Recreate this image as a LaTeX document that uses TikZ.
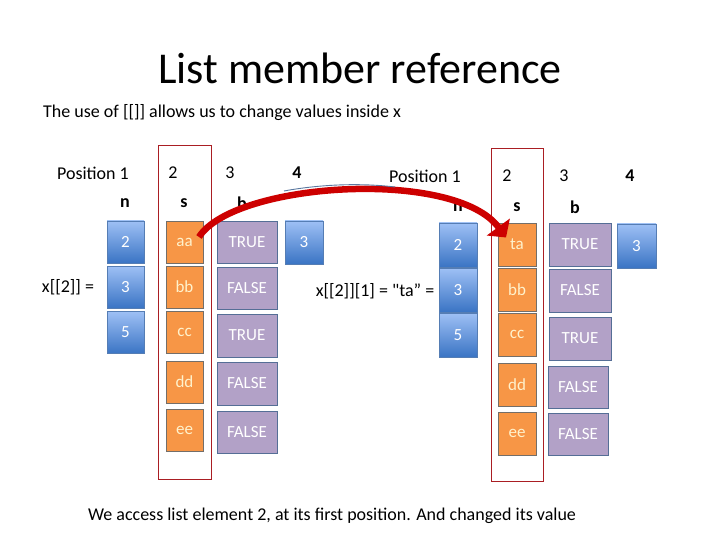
\documentclass[tikz,border=0pt]{standalone}
\usepackage{fontspec}
\setmainfont{Carlito}
\newfontfamily\rawfont{Carlito}[Ligatures=TeXOff]
\usetikzlibrary{arrows.meta,calc}
\definecolor{bluetop}{RGB}{158,192,245}
\definecolor{bluebot}{RGB}{58,116,196}
\definecolor{blueedge}{RGB}{85,125,180}
\definecolor{orfill}{RGB}{247,150,70}
\definecolor{oredge}{RGB}{115,110,105}
\definecolor{orttext}{RGB}{255,242,204}
\definecolor{pufill}{RGB}{178,161,199}
\definecolor{puedge}{RGB}{85,110,150}
\definecolor{frame}{RGB}{170,30,35}
\definecolor{arrred}{RGB}{205,0,0}
\definecolor{thinblue}{RGB}{90,120,160}
\tikzset{
  cell/.style={minimum width=#1, inner sep=0pt, font=\fontsize{17}{17}\selectfont, line width=0.8pt},
  bluebox/.style={cell=37pt, minimum height=42pt, draw=blueedge, top color=bluetop, bottom color=bluebot, text=white},
  orbox/.style={cell=37pt, minimum height=42pt, draw=oredge, fill=orfill, text=orttext},
  pubox/.style={cell=60pt, minimum height=42pt, draw=puedge, fill=pufill, text=white},
  lbl/.style={font=\fontsize{18}{18}\selectfont, inner sep=0pt},
  blbl/.style={font=\fontsize{18}{18}\selectfont\bfseries, inner sep=0pt},
  framebox/.style={draw=frame, line width=0.9pt},
}
\begin{document}
\begin{tikzpicture}[x=1pt,y=-1pt]
\useasboundingbox (0,0) rectangle (720,540);
\fill[white] (0,0) rectangle (720,540);

% title and captions
\node[font=\fontsize{44}{44}\selectfont, inner sep=0pt] (title) at (360,68) {List member reference};
\node[lbl, anchor=west] (sub) at (43,113) {The use of [[]] allows us to change values inside x};
\node[lbl] (bottom) at (332,516) {We access list element 2, at its first position. And changed its value};

% red frames
\node[framebox, minimum width=53pt, minimum height=334pt, inner sep=0pt] (frameL) at (184.5,312) {};
\node[framebox, minimum width=52pt, minimum height=333pt, inner sep=0pt] (frameR) at (517,314.5) {};

% left header
\node[lbl] (posL) at (93,173) {Position 1};
\node[lbl] (p2L) at (173,173) {2};
\node[lbl] (p3L) at (230,173) {3};
\node[blbl] (p4L) at (297,173) {4};
\node[blbl] (nL) at (125,203) {n};
\node[blbl] (sL) at (184,203) {s};
\node[blbl] (bL) at (242,203) {b};
\node[lbl] (xL) at (68,287) {x[[2]] =};

% left cells
\node[bluebox] (nL1) at (125.5,242) {2};
\node[bluebox] (nL2) at (125.5,287) {3};
\node[bluebox] (nL3) at (125.5,332.5) {5};
\node[orbox] (aa) at (184.5,242) {aa};
\node[orbox] (sL2) at (184.5,287) {bb};
\node[orbox] (sL3) at (184.5,332.5) {cc};
\node[orbox] (sL4) at (184.5,382) {dd};
\node[orbox] (sL5) at (184.5,430.5) {ee};
\node[pubox] (bL1) at (247,242) {TRUE};
\node[pubox] (bL2) at (247,288) {FALSE};
\node[pubox, minimum height=43pt] (bL3) at (247,335.5) {TRUE};
\node[pubox, minimum height=43pt] (bL4) at (247,383.5) {FALSE};
\node[pubox] (bL5) at (247,432) {FALSE};
\node[bluebox, minimum width=38pt, minimum height=43pt] (fL) at (304,242.5) {3};

% right header
\node[lbl] (posR) at (425,176) {Position 1};
\node[lbl] (p2R) at (507,176) {2};
\node[lbl] (p3R) at (564,176) {3};
\node[blbl] (p4R) at (630,176) {4};
\node[blbl] (nR) at (458,207) {n};
\node[blbl] (sR) at (517,207) {s};
\node[blbl] (bR) at (575,207) {b};
\node[lbl] (xR) at (375,291) {\rawfont x[[2]][1] = "ta” =};

% right cells
\node[bluebox, minimum width=38pt, minimum height=44pt] (nR1) at (458,245) {2};
\node[bluebox, minimum width=38pt, minimum height=44pt] (nR2) at (458,290) {3};
\node[bluebox, minimum width=38pt, minimum height=44pt] (nR3) at (458,335) {5};
\node[orbox, minimum width=38pt, minimum height=43pt] (ta) at (517,244.5) {ta};
\node[orbox, minimum width=38pt, minimum height=43pt] (sR2) at (517,289.5) {bb};
\node[orbox, minimum width=38pt, minimum height=43pt] (sR3) at (517,334.5) {cc};
\node[orbox, minimum width=38pt, minimum height=43pt] (sR4) at (517,384.5) {dd};
\node[orbox, minimum width=38pt, minimum height=43pt] (sR5) at (517,433.5) {ee};
\node[pubox, minimum width=62pt, minimum height=43pt] (bR1) at (580,244.5) {TRUE};
\node[pubox, minimum width=62pt, minimum height=43pt] (bR2) at (580,290.5) {FALSE};
\node[pubox, minimum width=62pt, minimum height=43pt] (bR3) at (580,338.5) {TRUE};
\node[pubox, minimum height=42pt] (bR4) at (578,387) {FALSE};
\node[pubox, minimum height=42pt] (bR5) at (578,434) {FALSE};
\node[bluebox, minimum width=39pt, minimum height=44pt] (fR) at (636.5,246) {3};

% curved arrow
\coordinate (arrS) at ($(aa.center)+(14.5,-5)$);
\coordinate (arrE) at ($(ta.center)+(-11,-7)$);
\draw[arrred, line width=6.5pt, -{Triangle[width=28pt,length=13pt]}]
  (arrS) .. controls (234,182) and (455,168) .. (arrE);
\coordinate (blS) at (284,191);
\coordinate (blE) at (395,187);
\draw[thinblue, line width=0.9pt] (blS) .. controls (322,184) and (362,183) .. (blE);
\end{tikzpicture}
\end{document}
